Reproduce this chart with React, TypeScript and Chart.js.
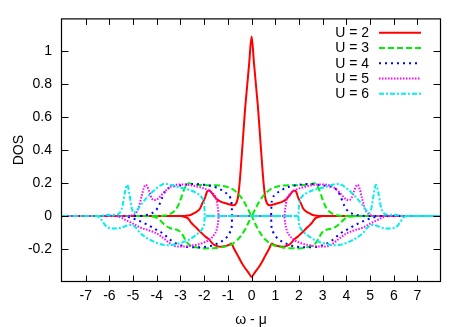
import React, { useEffect, useRef } from "react";
import { Chart, registerables } from "chart.js";

Chart.register(...registerables);

// ---- axes ----
const xTicks = [-7, -6, -5, -4, -3, -2, -1, 0, 1, 2, 3, 4, 5, 6, 7];
const yTicks = [-0.2, 0, 0.2, 0.4, 0.6, 0.8, 1];
const xMin = -8;
const xMax = 7.95;
const yMin = -0.4;
const yMax = 1.2;

// ---- series ----
const seriesLabels = ["U = 2", "U = 3", "U = 4", "U = 5", "U = 6"];
const seriesColors = ["#ff0000", "#00ee00", "#0000ff", "#ff00ff", "#00eeee"];
const seriesDash: number[][] = [[], [6, 3], [2, 4], [1.5, 1.5], [5, 2, 2, 2]];

// Curves read for ω-μ >= 0 (the plot is mirror symmetric about ω-μ = 0)
const omegaU2 = [0, 0.1, 0.2, 0.28, 0.35, 0.42, 0.5, 0.58, 0.65, 0.75, 0.85, 0.95, 1.1, 1.3, 1.45, 1.6, 1.72, 1.8, 1.88, 1.97, 2.07, 2.17, 2.3, 2.45, 2.55, 2.62, 2.7, 2.85, 3.0];
const dosPlusU2 = [1.09, 0.93, 0.77, 0.64, 0.5, 0.36, 0.21, 0.11, 0.078, 0.066, 0.068, 0.072, 0.078, 0.088, 0.1, 0.125, 0.148, 0.155, 0.148, 0.11, 0.08, 0.048, 0.028, 0.016, 0.008, 0.005, 0.004, 0.001, 0];
const dosMinusU2 = [-0.37, -0.35, -0.33, -0.315, -0.3, -0.283, -0.262, -0.24, -0.222, -0.195, -0.167, -0.175, -0.182, -0.186, -0.182, -0.172, -0.155, -0.14, -0.132, -0.122, -0.108, -0.095, -0.075, -0.055, -0.04, -0.025, -0.012, -0.004, 0];

const omegaU3 = [0, 0.1, 0.2, 0.3, 0.45, 0.6, 0.8, 1.0, 1.3, 1.6, 2.0, 2.3, 2.5, 2.65, 2.75, 2.85, 2.95, 3.05, 3.15, 3.3, 3.45, 3.6, 3.75, 3.9, 4.05, 4.2, 4.4];
const dosPlusU3 = [0, 0.028, 0.055, 0.082, 0.115, 0.14, 0.163, 0.176, 0.185, 0.188, 0.188, 0.19, 0.194, 0.2, 0.19, 0.16, 0.12, 0.08, 0.05, 0.025, 0.012, 0.005, 0.002, 0, 0, 0, 0];
const dosMinusU3 = [0, -0.03, -0.06, -0.088, -0.12, -0.145, -0.168, -0.18, -0.19, -0.195, -0.196, -0.19, -0.182, -0.172, -0.155, -0.13, -0.105, -0.09, -0.083, -0.078, -0.072, -0.06, -0.042, -0.02, -0.007, -0.002, 0];

const omegaU4 = [0, 0.82, 0.84, 0.9, 1.0, 1.15, 1.4, 1.7, 2.0, 2.4, 2.8, 3.1, 3.35, 3.5, 3.62, 3.72, 3.82, 3.92, 4.05, 4.2, 4.4, 4.6, 4.9, 5.2, 5.4];
const dosPlusU4 = [0, 0, 0.07, 0.112, 0.13, 0.148, 0.168, 0.182, 0.19, 0.195, 0.19, 0.185, 0.178, 0.17, 0.155, 0.13, 0.095, 0.06, 0.033, 0.018, 0.008, 0.003, 0, 0, 0];
const dosMinusU4 = [0, 0, -0.065, -0.095, -0.12, -0.142, -0.163, -0.18, -0.187, -0.189, -0.185, -0.172, -0.152, -0.135, -0.12, -0.108, -0.098, -0.09, -0.08, -0.068, -0.052, -0.038, -0.02, -0.006, 0];

const omegaU5 = [0, 1.38, 1.42, 1.48, 1.6, 1.8, 2.1, 2.5, 2.9, 3.2, 3.45, 3.65, 3.85, 4.0, 4.12, 4.22, 4.32, 4.4, 4.47, 4.55, 4.65, 4.75, 4.85, 5.0, 5.15, 5.3, 5.5, 5.7];
const dosPlusU5 = [0, 0, 0.045, 0.1, 0.132, 0.155, 0.172, 0.186, 0.192, 0.19, 0.175, 0.152, 0.12, 0.1, 0.097, 0.11, 0.15, 0.18, 0.19, 0.17, 0.115, 0.06, 0.025, 0.008, 0.002, 0, 0, 0];
const dosMinusU5 = [0, 0, -0.045, -0.085, -0.118, -0.145, -0.165, -0.178, -0.185, -0.183, -0.165, -0.142, -0.12, -0.105, -0.098, -0.092, -0.087, -0.083, -0.08, -0.077, -0.072, -0.066, -0.058, -0.046, -0.035, -0.025, -0.01, 0];

const omegaU6 = [0, 1.97, 2.0, 2.05, 2.15, 2.35, 2.65, 3.0, 3.3, 3.6, 3.8, 4.0, 4.2, 4.4, 4.6, 4.75, 4.88, 4.98, 5.06, 5.15, 5.25, 5.35, 5.45, 5.55, 5.7, 5.95, 6.15, 6.3, 6.42, 6.55];
const dosPlusU6 = [0, 0, 0.07, 0.1, 0.122, 0.142, 0.16, 0.172, 0.185, 0.195, 0.19, 0.17, 0.145, 0.115, 0.082, 0.052, 0.028, 0.02, 0.05, 0.13, 0.19, 0.14, 0.06, 0.022, 0.01, 0.008, 0.006, 0.003, 0.001, 0];
const dosMinusU6 = [0, 0, -0.05, -0.07, -0.09, -0.115, -0.145, -0.163, -0.174, -0.177, -0.172, -0.163, -0.15, -0.135, -0.115, -0.095, -0.07, -0.058, -0.054, -0.054, -0.057, -0.062, -0.068, -0.072, -0.076, -0.074, -0.06, -0.03, -0.008, 0];

const omegaSets = [omegaU2, omegaU3, omegaU4, omegaU5, omegaU6];
const plusSets = [dosPlusU2, dosPlusU3, dosPlusU4, dosPlusU5, dosPlusU6];
const minusSets = [dosMinusU2, dosMinusU3, dosMinusU4, dosMinusU5, dosMinusU6];

function fullCurve(xs: number[], ys: number[]) {
  const pts: { x: number; y: number }[] = [{ x: xMin, y: 0 }];
  for (let i = xs.length - 1; i >= 1; i--) pts.push({ x: -xs[i], y: ys[i] });
  for (let i = 0; i < xs.length; i++) pts.push({ x: xs[i], y: ys[i] });
  pts.push({ x: xMax, y: 0 });
  return pts;
}

const FONT = '"Liberation Sans", Arial, Helvetica, sans-serif';

const framePlugin = {
  id: "gnuFrame",
  afterDraw(chart: any) {
    const { ctx, chartArea: a, scales } = chart;
    const xs = scales.x;
    const ys = scales.y;
    const L = a.left - 0.5;
    const R = a.right + 0.5;
    const T = a.top + 0.5;
    const B = a.bottom - 0.5;
    ctx.save();
    ctx.setLineDash([]);
    ctx.strokeStyle = "#000";
    ctx.lineWidth = 1.2;
    ctx.strokeRect(L, T, R - L, B - T);
    ctx.lineWidth = 1;
    ctx.beginPath();
    for (const v of xTicks) {
      const px = Math.round(xs.getPixelForValue(v)) + 0.5;
      ctx.moveTo(px, B);
      ctx.lineTo(px, B - 6);
      ctx.moveTo(px, T);
      ctx.lineTo(px, T + 6);
    }
    for (const v of yTicks) {
      const py = Math.round(ys.getPixelForValue(v)) + 0.5;
      ctx.moveTo(L, py);
      ctx.lineTo(L + 7, py);
      ctx.moveTo(R, py);
      ctx.lineTo(R - 7, py);
    }
    ctx.stroke();

    // gnuplot-style key: text then line sample
    ctx.font = "14px " + FONT;
    ctx.textAlign = "right";
    ctx.textBaseline = "middle";
    for (let i = 0; i < seriesLabels.length; i++) {
      const yy = 32.7 + i * 15.25;
      ctx.fillStyle = "#000";
      ctx.fillText(seriesLabels[i], 369, yy + 0.5);
      ctx.beginPath();
      ctx.strokeStyle = seriesColors[i];
      ctx.lineWidth = 2;
      ctx.setLineDash(seriesDash[i]);
      ctx.moveTo(379, yy);
      ctx.lineTo(421, yy);
      ctx.stroke();
    }
    ctx.restore();
  },
};

export default function App() {
  const ref = useRef<HTMLCanvasElement | null>(null);

  useEffect(() => {
    if (!ref.current) return;
    Chart.defaults.font.family = FONT;
    Chart.defaults.font.size = 14;
    Chart.defaults.color = "#000";

    const datasets: any[] = [];
    for (let i = 0; i < seriesLabels.length; i++) {
      const common = {
        borderColor: seriesColors[i],
        backgroundColor: seriesColors[i],
        borderWidth: 2,
        borderDash: seriesDash[i],
        pointRadius: 0,
        fill: false,
        cubicInterpolationMode: "monotone",
        order: seriesLabels.length - i,
      };
      datasets.push({ ...common, label: seriesLabels[i], data: fullCurve(omegaSets[i], plusSets[i]) });
      datasets.push({ ...common, label: seriesLabels[i] + " (-)", data: fullCurve(omegaSets[i], minusSets[i]) });
    }

    const chart = new Chart(ref.current, {
      type: "line",
      data: { datasets },
      options: {
        animation: false,
        responsive: false,
        layout: { padding: { top: 18, right: 26, left: 0, bottom: 0 } },
        plugins: { legend: { display: false }, tooltip: { enabled: false } },
        scales: {
          x: {
            type: "linear",
            min: xMin,
            max: xMax,
            grid: { display: false, drawTicks: false },
            border: { display: false },
            afterBuildTicks: (s: any) => {
              s.ticks = xTicks.map((v) => ({ value: v }));
            },
            afterFit: (s: any) => {
              s.height = 45;
            },
            ticks: {
              autoSkip: false,
              maxRotation: 0,
              padding: 6,
              color: "#000",
              callback: (v: any) => String(v),
            },
            title: { display: true, text: "ω - μ", color: "#000", padding: { top: 0, bottom: -2 } },
          },
          y: {
            type: "linear",
            min: yMin,
            max: yMax,
            grid: { display: false, drawTicks: false },
            border: { display: false },
            afterBuildTicks: (s: any) => {
              s.ticks = yTicks.map((v) => ({ value: v }));
            },
            afterFit: (s: any) => {
              s.width = 62;
            },
            ticks: {
              padding: 10,
              color: "#000",
              callback: (v: any) => String(Math.round(Number(v) * 10) / 10),
            },
            title: { display: true, text: "DOS", color: "#000", padding: { top: 11, bottom: 0 } },
          },
        },
      },
      plugins: [framePlugin],
    });
    return () => chart.destroy();
  }, []);

  return (
    <div style={{ position: "fixed", left: 0, top: 0, width: 466, height: 327, background: "#fff" }}>
      <canvas ref={ref} width={466} height={327} style={{ display: "block" }} />
    </div>
  );
}
